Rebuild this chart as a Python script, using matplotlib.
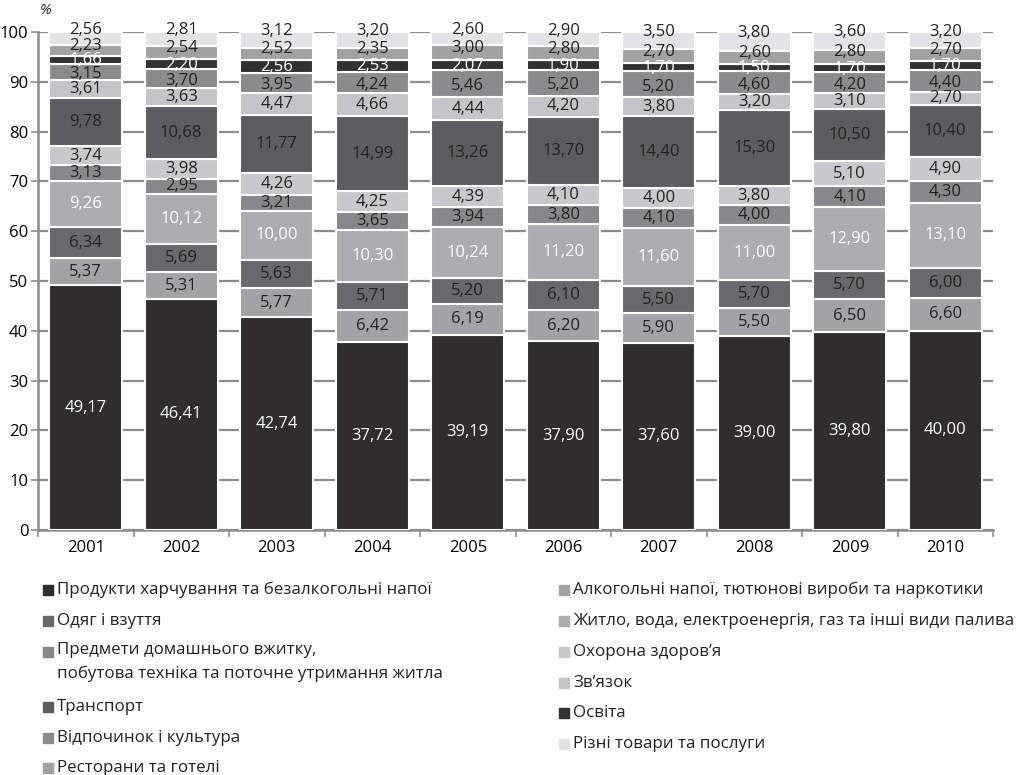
import numpy as np
import matplotlib.pyplot as plt
from matplotlib.patches import Rectangle

plt.rcParams['font.family'] = ['Open Sans', 'DejaVu Sans']

# ---------- data ----------
years = ['2001', '2002', '2003', '2004', '2005', '2006', '2007', '2008', '2009', '2010']

categories = [
    'Продукти харчування та безалкогольні напої',
    'Алкогольні напої, тютюнові вироби та наркотики',
    'Одяг і взуття',
    'Житло, вода, електроенергія, газ та інші види палива',
    'Предмети домашнього вжитку,\nпобутова техніка та поточне утримання житла',
    'Охорона здоров’я',
    'Транспорт',
    'Зв’язок',
    'Відпочинок і культура',
    'Освіта',
    'Ресторани та готелі',
    'Різні товари та послуги',
]

food          = [49.17, 46.41, 42.74, 37.72, 39.19, 37.90, 37.60, 39.00, 39.80, 40.00]
alcohol       = [5.37, 5.31, 5.77, 6.42, 6.19, 6.20, 5.90, 5.50, 6.50, 6.60]
clothing      = [6.34, 5.69, 5.63, 5.71, 5.20, 6.10, 5.50, 5.70, 5.70, 6.00]
housing       = [9.26, 10.12, 10.00, 10.30, 10.24, 11.20, 11.60, 11.00, 12.90, 13.10]
household     = [3.13, 2.95, 3.21, 3.65, 3.94, 3.80, 4.10, 4.00, 4.10, 4.30]
health        = [3.74, 3.98, 4.26, 4.25, 4.39, 4.10, 4.00, 3.80, 5.10, 4.90]
transport     = [9.78, 10.68, 11.77, 14.99, 13.26, 13.70, 14.40, 15.30, 10.50, 10.40]
communication = [3.61, 3.63, 4.47, 4.66, 4.44, 4.20, 3.80, 3.20, 3.10, 2.70]
recreation    = [3.15, 3.70, 3.95, 4.24, 5.46, 5.20, 5.20, 4.60, 4.20, 4.40]
education     = [1.66, 2.20, 2.56, 2.53, 2.07, 1.90, 1.70, 1.50, 1.70, 1.70]
restaurants   = [2.23, 2.54, 2.52, 2.35, 3.00, 2.80, 2.70, 2.60, 2.80, 2.70]
misc          = [2.56, 2.81, 3.12, 3.20, 2.60, 2.90, 3.50, 3.80, 3.60, 3.20]

series = [food, alcohol, clothing, housing, household, health,
          transport, communication, recreation, education, restaurants, misc]

colors = ['#2f2d2e', '#a3a3a6', '#69696b', '#adadb0', '#88888a', '#c9c9cb',
          '#5d5d5f', '#c5c5c7', '#8b8b8d', '#323232', '#a2a2a4', '#e4e4e6']
text_colors = ['white', '#222222', '#222222', 'white', '#222222', '#222222',
               '#222222', '#222222', '#222222', 'white', '#222222', '#222222']
# small vertical nudges for the crowded labels at the top of each bar
label_shift = [0, 0, 0, 0, 0, 0, 0, 0, -0.5, -0.1, 0.9, 1.7]

# ---------- figure ----------
fig = plt.figure(figsize=(10.21, 7.75), dpi=100)
ax = fig.add_axes([38 / 1021, 1 - 530 / 775, 955 / 1021, 498 / 775])

x = np.arange(len(years))
bottom = np.zeros(len(years))
for vals, col, tcol, dy in zip(series, colors, text_colors, label_shift):
    vals = np.array(vals)
    ax.bar(x, vals, width=0.76, bottom=bottom, color=col,
           edgecolor='white', linewidth=1.5, zorder=3)
    for xi, b, v in zip(x, bottom, vals):
        ax.text(xi, b + v / 2 + dy, f'{v:.2f}'.replace('.', ','), ha='center',
                va='center', fontsize=12, color=tcol, zorder=4, clip_on=False)
    bottom += vals

ax.set_xlim(-0.5, len(years) - 0.5)
ax.set_ylim(0, 100)
ax.set_yticks(range(0, 101, 10))
ax.yaxis.grid(True, color='#8c8c8c', linewidth=1.6, zorder=0)
ax.set_axisbelow(True)

# year labels at centres, tick marks at boundaries
ax.set_xticks(x)
ax.set_xticklabels(years, fontsize=12)
ax.tick_params(axis='x', length=0, pad=7)
ax.set_xticks(np.arange(-0.5, len(years)), minor=True)
ax.tick_params(axis='x', which='minor', length=5, width=1.2, color='#8c8c8c',
               direction='out')
ax.tick_params(axis='y', labelsize=12, length=5, width=1.2, color='#8c8c8c', pad=2)

for s in ['top', 'right']:
    ax.spines[s].set_visible(False)
for s in ['left', 'bottom']:
    ax.spines[s].set_color('#8c8c8c')
    ax.spines[s].set_linewidth(1.8)

fig.text(40 / 1021, 1 - 10 / 775, '%', fontsize=10.5, style='italic',
         ha='left', va='center', color='#222222')

# ---------- legend ----------
left_idx = [0, 2, 4, 6, 8, 10]
right_idx = [1, 3, 5, 7, 9, 11]
left_y = [590, 621, 652, 707, 738, 768]
right_y = [590, 621, 652, 683, 713, 744]


def legend_item(i, xpx, ypx):
    fig.patches.append(Rectangle((xpx / 1021, 1 - (ypx + 5) / 775), 10 / 1021, 10 / 775,
                                 transform=fig.transFigure, color=colors[i]))
    if '\n' in categories[i]:
        fig.text((xpx + 14) / 1021, 1 - (ypx - 10) / 775, categories[i], fontsize=12.2,
                 ha='left', va='top', color='#222222', linespacing=1.6)
    else:
        fig.text((xpx + 14) / 1021, 1 - ypx / 775, categories[i], fontsize=12.2,
                 ha='left', va='center', color='#222222')


for i, yy in zip(left_idx, left_y):
    legend_item(i, 43, yy)
for i, yy in zip(right_idx, right_y):
    legend_item(i, 559, yy)

fig.savefig('out.png', dpi=100)
